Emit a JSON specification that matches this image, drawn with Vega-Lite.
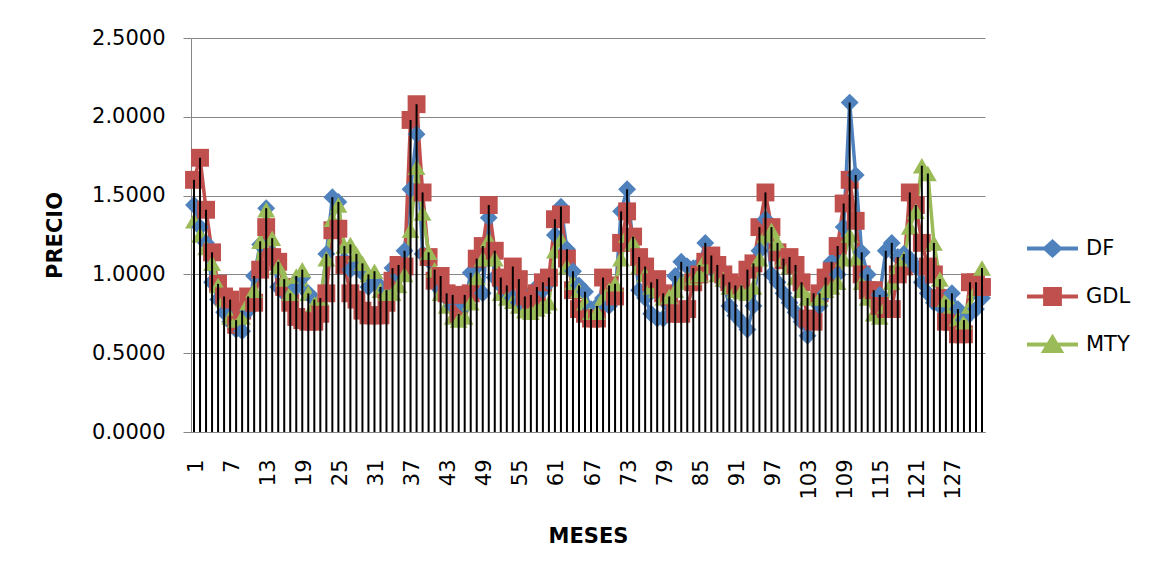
{
  "$schema": "https://vega.github.io/schema/vega-lite/v6.json",
  "width": 794,
  "height": 394,
  "autosize": "none",
  "padding": {"left": 191, "top": 38, "right": 164, "bottom": 146},
  "background": "white",
  "data": {
    "values": [
      {"m":1,"DF":1.44,"GDL":1.60,"MTY":1.34},{"m":2,"DF":1.30,"GDL":1.74,"MTY":1.25},{"m":3,"DF":1.20,"GDL":1.41,"MTY":1.17},
      {"m":4,"DF":0.95,"GDL":1.14,"MTY":1.07},{"m":5,"DF":0.84,"GDL":0.94,"MTY":0.93},{"m":6,"DF":0.76,"GDL":0.86,"MTY":0.84},
      {"m":7,"DF":0.70,"GDL":0.84,"MTY":0.73},{"m":8,"DF":0.65,"GDL":0.68,"MTY":0.71},{"m":9,"DF":0.64,"GDL":0.77,"MTY":0.73},
      {"m":10,"DF":0.77,"GDL":0.86,"MTY":0.82},{"m":11,"DF":0.99,"GDL":0.82,"MTY":0.90},{"m":12,"DF":1.19,"GDL":1.03,"MTY":1.21},
      {"m":13,"DF":1.42,"GDL":1.30,"MTY":1.41},{"m":14,"DF":1.13,"GDL":1.11,"MTY":1.23},{"m":15,"DF":0.92,"GDL":1.08,"MTY":1.05},
      {"m":16,"DF":0.88,"GDL":0.92,"MTY":0.97},{"m":17,"DF":0.86,"GDL":0.82,"MTY":0.88},{"m":18,"DF":0.92,"GDL":0.73,"MTY":0.99},
      {"m":19,"DF":0.98,"GDL":0.71,"MTY":1.03},{"m":20,"DF":0.88,"GDL":0.70,"MTY":0.88},{"m":21,"DF":0.84,"GDL":0.70,"MTY":0.81},
      {"m":22,"DF":0.80,"GDL":0.75,"MTY":0.85},{"m":23,"DF":1.13,"GDL":0.88,"MTY":1.10},{"m":24,"DF":1.49,"GDL":1.28,"MTY":1.35},
      {"m":25,"DF":1.46,"GDL":1.29,"MTY":1.44},{"m":26,"DF":1.09,"GDL":1.06,"MTY":1.18},{"m":27,"DF":1.03,"GDL":0.88,"MTY":1.19},
      {"m":28,"DF":1.05,"GDL":0.84,"MTY":1.13},{"m":29,"DF":1.01,"GDL":0.77,"MTY":1.07},{"m":30,"DF":0.92,"GDL":0.74,"MTY":1.00},
      {"m":31,"DF":0.96,"GDL":0.74,"MTY":1.02},{"m":32,"DF":0.92,"GDL":0.74,"MTY":0.90},{"m":33,"DF":0.90,"GDL":0.82,"MTY":0.88},
      {"m":34,"DF":1.04,"GDL":0.96,"MTY":0.88},{"m":35,"DF":0.99,"GDL":1.06,"MTY":0.93},{"m":36,"DF":1.15,"GDL":1.05,"MTY":1.00},
      {"m":37,"DF":1.54,"GDL":1.98,"MTY":1.28},{"m":38,"DF":1.89,"GDL":2.08,"MTY":1.68},{"m":39,"DF":1.13,"GDL":1.52,"MTY":1.39},
      {"m":40,"DF":1.09,"GDL":1.11,"MTY":1.14},{"m":41,"DF":0.95,"GDL":0.96,"MTY":1.03},{"m":42,"DF":0.90,"GDL":0.99,"MTY":0.88},
      {"m":43,"DF":0.85,"GDL":0.88,"MTY":0.80},{"m":44,"DF":0.80,"GDL":0.87,"MTY":0.73},{"m":45,"DF":0.72,"GDL":0.75,"MTY":0.71},
      {"m":46,"DF":0.80,"GDL":0.87,"MTY":0.73},{"m":47,"DF":1.01,"GDL":0.88,"MTY":0.82},{"m":48,"DF":1.05,"GDL":1.10,"MTY":0.98},
      {"m":49,"DF":0.88,"GDL":1.18,"MTY":1.10},{"m":50,"DF":1.36,"GDL":1.44,"MTY":1.22},{"m":51,"DF":0.98,"GDL":1.15,"MTY":1.10},
      {"m":52,"DF":0.93,"GDL":0.98,"MTY":0.88},{"m":53,"DF":0.88,"GDL":0.93,"MTY":0.85},{"m":54,"DF":0.85,"GDL":1.05,"MTY":0.83},
      {"m":55,"DF":0.82,"GDL":0.97,"MTY":0.80},{"m":56,"DF":0.80,"GDL":0.86,"MTY":0.77},{"m":57,"DF":0.87,"GDL":0.84,"MTY":0.76},
      {"m":58,"DF":0.92,"GDL":0.88,"MTY":0.78},{"m":59,"DF":0.90,"GDL":0.95,"MTY":0.80},{"m":60,"DF":0.95,"GDL":0.98,"MTY":0.82},
      {"m":61,"DF":1.25,"GDL":1.35,"MTY":1.15},{"m":62,"DF":1.43,"GDL":1.38,"MTY":1.22},{"m":63,"DF":1.16,"GDL":1.10,"MTY":1.05},
      {"m":64,"DF":1.02,"GDL":0.90,"MTY":0.95},{"m":65,"DF":0.93,"GDL":0.78,"MTY":0.90},{"m":66,"DF":0.89,"GDL":0.75,"MTY":0.82},
      {"m":67,"DF":0.78,"GDL":0.72,"MTY":0.76},{"m":68,"DF":0.80,"GDL":0.72,"MTY":0.76},{"m":69,"DF":0.85,"GDL":0.98,"MTY":0.85},
      {"m":70,"DF":0.80,"GDL":0.93,"MTY":0.90},{"m":71,"DF":0.85,"GDL":0.86,"MTY":0.94},{"m":72,"DF":1.40,"GDL":1.20,"MTY":1.10},
      {"m":73,"DF":1.54,"GDL":1.40,"MTY":1.25},{"m":74,"DF":1.20,"GDL":1.24,"MTY":1.20},{"m":75,"DF":0.90,"GDL":1.11,"MTY":1.05},
      {"m":76,"DF":0.85,"GDL":1.05,"MTY":1.00},{"m":77,"DF":0.75,"GDL":0.95,"MTY":0.92},{"m":78,"DF":0.72,"GDL":0.97,"MTY":0.90},
      {"m":79,"DF":0.72,"GDL":0.88,"MTY":0.85},{"m":80,"DF":0.80,"GDL":0.86,"MTY":0.86},{"m":81,"DF":0.99,"GDL":0.75,"MTY":0.90},
      {"m":82,"DF":1.08,"GDL":0.75,"MTY":0.95},{"m":83,"DF":1.05,"GDL":0.78,"MTY":0.98},{"m":84,"DF":1.04,"GDL":0.95,"MTY":0.98},
      {"m":85,"DF":1.06,"GDL":1.00,"MTY":1.00},{"m":86,"DF":1.20,"GDL":1.08,"MTY":1.10},{"m":87,"DF":1.10,"GDL":1.12,"MTY":1.05},
      {"m":88,"DF":1.00,"GDL":1.06,"MTY":1.00},{"m":89,"DF":0.95,"GDL":1.00,"MTY":0.97},{"m":90,"DF":0.80,"GDL":0.95,"MTY":0.92},
      {"m":91,"DF":0.74,"GDL":0.93,"MTY":0.90},{"m":92,"DF":0.70,"GDL":0.93,"MTY":0.89},{"m":93,"DF":0.65,"GDL":1.03,"MTY":0.88},
      {"m":94,"DF":0.80,"GDL":1.07,"MTY":0.92},{"m":95,"DF":1.15,"GDL":1.30,"MTY":1.10},{"m":96,"DF":1.35,"GDL":1.52,"MTY":1.25},
      {"m":97,"DF":1.00,"GDL":1.30,"MTY":1.28},{"m":98,"DF":0.95,"GDL":1.14,"MTY":1.20},{"m":99,"DF":0.88,"GDL":1.09,"MTY":1.10},
      {"m":100,"DF":0.82,"GDL":1.11,"MTY":1.05},{"m":101,"DF":0.76,"GDL":1.06,"MTY":0.98},{"m":102,"DF":0.70,"GDL":0.95,"MTY":0.90},
      {"m":103,"DF":0.61,"GDL":0.72,"MTY":0.85},{"m":104,"DF":0.70,"GDL":0.70,"MTY":0.88},{"m":105,"DF":0.80,"GDL":0.88,"MTY":0.85},
      {"m":106,"DF":0.88,"GDL":0.98,"MTY":0.90},{"m":107,"DF":1.08,"GDL":1.02,"MTY":0.92},{"m":108,"DF":1.00,"GDL":1.18,"MTY":0.95},
      {"m":109,"DF":1.30,"GDL":1.45,"MTY":1.10},{"m":110,"DF":2.09,"GDL":1.60,"MTY":1.25},{"m":111,"DF":1.63,"GDL":1.34,"MTY":1.10},
      {"m":112,"DF":1.14,"GDL":1.00,"MTY":0.95},{"m":113,"DF":1.00,"GDL":0.90,"MTY":0.85},{"m":114,"DF":0.90,"GDL":0.90,"MTY":0.75},
      {"m":115,"DF":0.87,"GDL":0.80,"MTY":0.73},{"m":116,"DF":1.15,"GDL":0.78,"MTY":0.80},{"m":117,"DF":1.20,"GDL":0.78,"MTY":0.95},
      {"m":118,"DF":1.11,"GDL":1.00,"MTY":1.05},{"m":119,"DF":1.13,"GDL":1.05,"MTY":1.10},{"m":120,"DF":1.10,"GDL":1.52,"MTY":1.30},
      {"m":121,"DF":1.05,"GDL":1.44,"MTY":1.40},{"m":122,"DF":0.95,"GDL":1.20,"MTY":1.69},{"m":123,"DF":0.88,"GDL":1.05,"MTY":1.64},
      {"m":124,"DF":0.82,"GDL":1.00,"MTY":1.20},{"m":125,"DF":0.80,"GDL":0.85,"MTY":0.97},{"m":126,"DF":0.75,"GDL":0.70,"MTY":0.84},
      {"m":127,"DF":0.88,"GDL":0.70,"MTY":0.80},{"m":128,"DF":0.78,"GDL":0.62,"MTY":0.72},{"m":129,"DF":0.71,"GDL":0.62,"MTY":0.70},
      {"m":130,"DF":0.75,"GDL":0.95,"MTY":0.80},{"m":131,"DF":0.78,"GDL":0.95,"MTY":0.90},{"m":132,"DF":0.85,"GDL":0.92,"MTY":1.04}
    ]
  },
  "transform": [
    {"fold": ["DF", "GDL", "MTY"], "as": ["serie", "precio"]}
  ],
  "encoding": {
    "x": {
      "field": "m",
      "type": "ordinal",
      "scale": {"type": "point", "padding": 0.5},
      "axis": {
        "title": "MESES",
        "values": [1, 7, 13, 19, 25, 31, 37, 43, 49, 55, 61, 67, 73, 79, 85, 91, 97, 103, 109, 115, 121, 127],
        "labelAngle": 270,
        "labelPadding": 27,
        "labelOffset": 2,
        "ticks": false,
        "grid": false,
        "titlePadding": 26
      }
    }
  },
  "layer": [
    {
      "mark": {"type": "line", "strokeWidth": 3.5},
      "encoding": {
        "y": {"field": "precio", "type": "quantitative"},
        "color": {
          "field": "serie",
          "type": "nominal",
          "scale": {"domain": ["DF", "GDL", "MTY"], "range": ["#4F81BD", "#C0504D", "#9BBB59"]},
          "legend": null
        }
      }
    },
    {
      "mark": {"type": "point", "filled": true, "opacity": 1, "size": 320},
      "encoding": {
        "y": {"field": "precio", "type": "quantitative"},
        "color": {"field": "serie", "type": "nominal", "legend": null},
        "shape": {
          "field": "serie",
          "type": "nominal",
          "scale": {"domain": ["DF", "GDL", "MTY"], "range": ["diamond", "square", "triangle-up"]},
          "legend": null
        }
      }
    },
    {
      "transform": [
        {"aggregate": [{"op": "max", "field": "precio", "as": "tope"}], "groupby": ["m"]}
      ],
      "mark": {"type": "rule", "color": "black", "strokeWidth": 2},
      "encoding": {
        "y": {
          "field": "tope",
          "type": "quantitative",
          "scale": {"domain": [0, 2.5], "nice": false},
          "axis": {
            "title": "PRECIO",
            "values": [0, 0.5, 1, 1.5, 2, 2.5],
            "format": ".4f",
            "tickSize": 8,
            "labelPadding": 18,
            "titlePadding": 26
          }
        },
        "y2": {"datum": 0}
      }
    },
    {
      "transform": [{"filter": "false"}],
      "mark": {"type": "point", "strokeWidth": 4, "opacity": 1},
      "encoding": {
        "y": {"field": "precio", "type": "quantitative"},
        "fill": {
          "field": "serie",
          "type": "nominal",
          "scale": {"domain": ["DF", "GDL", "MTY"], "range": ["#4F81BD", "#C0504D", "#9BBB59"]},
          "legend": {
            "title": null,
            "orient": "none",
            "legendX": 834,
            "legendY": 183,
            "labelFontSize": 21,
            "labelColor": "black",
            "labelOffset": 6,
            "symbolSize": 2601,
            "symbolStrokeWidth": 4,
            "rowPadding": 5
          }
        },
        "stroke": {
          "field": "serie",
          "type": "nominal",
          "scale": {"domain": ["DF", "GDL", "MTY"], "range": ["#4F81BD", "#C0504D", "#9BBB59"]},
          "legend": {
            "title": null,
            "orient": "none",
            "legendX": 834,
            "legendY": 183,
            "labelFontSize": 21,
            "labelColor": "black",
            "labelOffset": 6,
            "symbolSize": 2601,
            "symbolStrokeWidth": 4,
            "rowPadding": 5
          }
        },
        "shape": {
          "field": "serie",
          "type": "nominal",
          "scale": {
            "domain": ["DF", "GDL", "MTY"],
            "range": [
              "M-1,0H1M-0.29,0L0,-0.27L0.29,0L0,0.27Z",
              "M-1,0H1M-0.29,-0.29H0.29V0.29H-0.29Z",
              "M-1,0H1M0,-0.27L0.32,0.25H-0.32Z"
            ]
          },
          "legend": {
            "title": null,
            "orient": "none",
            "legendX": 834,
            "legendY": 183,
            "labelFontSize": 21,
            "labelColor": "black",
            "labelOffset": 6,
            "symbolSize": 2601,
            "symbolStrokeWidth": 4,
            "rowPadding": 5
          }
        }
      }
    }
  ],
  "resolve": {"scale": {"shape": "independent", "fill": "independent", "stroke": "independent"}},
  "config": {
    "font": "DejaVu Sans",
    "view": {"stroke": null},
    "axis": {
      "labelFontSize": 21,
      "labelColor": "black",
      "titleFontSize": 21,
      "titleFontWeight": "bold",
      "titleColor": "black",
      "domainColor": "#868686",
      "tickColor": "#868686",
      "gridColor": "#868686",
      "gridOpacity": 1,
      "domainWidth": 1,
      "gridWidth": 1
    }
  }
}
